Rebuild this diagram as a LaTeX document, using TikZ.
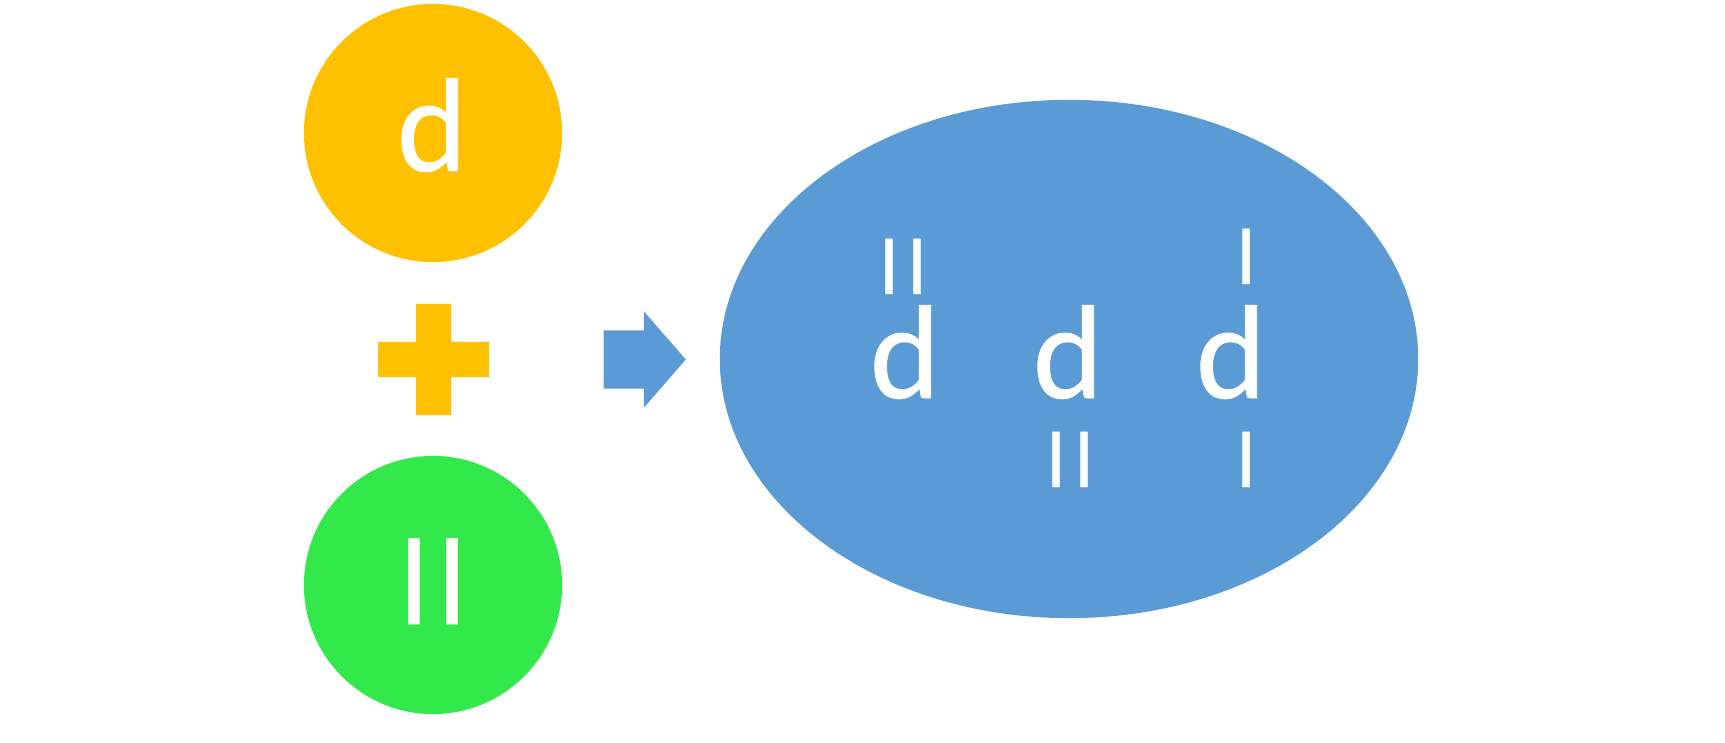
\documentclass[tikz,border=0pt]{standalone}
\usepackage{fontspec}
\setmainfont{Carlito}[FakeBold=0.6]
\usetikzlibrary{shapes.geometric,shapes.arrows}
\definecolor{gold}{HTML}{FFC000}
\definecolor{lime}{HTML}{33E84A}
\definecolor{sky}{HTML}{5B9BD5}

\begin{document}
\begin{tikzpicture}[x=0.01cm,y=-0.01cm,
   ball/.style={circle,minimum size=2.58cm,inner sep=0},
   big/.style={text=white,inner sep=0,anchor=base,font=\fontsize{38}{40}\selectfont},
   small/.style={text=white,inner sep=0,anchor=base,font=\fontsize{22.6}{24}\selectfont}]
   \useasboundingbox (0,0) rectangle (1725,743);

   \node[ball,fill=gold] (A) at (433,133) {};
   \node[ball,fill=lime] (B) at (433,585) {};
   \fill[gold] (378,342) rectangle (489,377) (416,304) rectangle (451,415);
   \node[single arrow,fill=sky,inner xsep=0,inner ysep=0.285cm,minimum height=0.82cm,minimum width=0.95cm,
         single arrow head extend=0.19cm,single arrow tip angle=98,anchor=tail] (go) at (603,359.5) {};
   \node[ellipse,fill=sky,inner sep=0,minimum width=6.98cm,minimum height=5.18cm] (E) at (1069,359) {};

   \node[big] (Ad) at (432,171) {d};
   \node[big,font=\fontsize{35}{37}\selectfont] (Bl) at (433,624) {l\kern2.8pt l};

   \node[big] (d1) at (905,398) {d};
   \node[big] (d2) at (1068,398) {d};
   \node[big] (d3) at (1231,398) {d};
   \node[small] (u1) at (903,294) {l\kern2.8pt l};
   \node[small] (u3) at (1246,284) {l};
   \node[small] (v2) at (1070,487) {l\kern2.8pt l};
   \node[small] (v3) at (1246,487) {l};
\end{tikzpicture}
\end{document}
